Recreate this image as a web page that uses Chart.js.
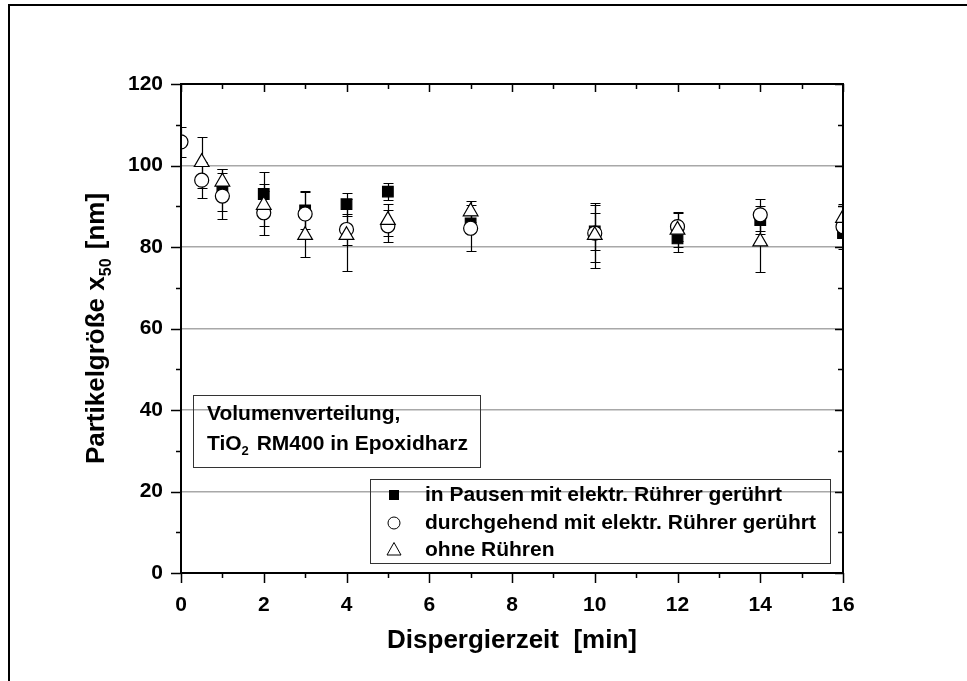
<!DOCTYPE html>
<html>
<head>
<meta charset="utf-8">
<script src="https://cdn.jsdelivr.net/npm/chart.js@4.4.0/dist/chart.umd.min.js"></script>
<style>
  html, body { margin: 0; padding: 0; background: #fff; }
  #wrap { position: relative; width: 967px; height: 681px; }
</style>
</head>
<body>
<div id="wrap"><canvas id="psd-canvas" width="967" height="681"></canvas></div>
<script>
// Dispergierzeit [min] und x50 [nm] mit Fehlerbalken (±)
const pause_t = [1, 2, 3, 4, 5, 7, 10, 12, 14, 16];
const pause_x50 = [94.0, 93.0, 89.0, 90.5, 93.6, 85.8, 83.8, 82.1, 86.6, 83.4];
const pause_err = [5.2, 5.5, 4.7, 2.8, 2.0, 2.0, 4.5, 3.4, 3.5, 4.0];

const cont_t = [0, 0.5, 1, 2, 3, 4, 5, 7, 10, 12, 14, 16];
const cont_x50 = [105.8, 96.4, 92.5, 88.4, 88.1, 84.3, 85.2, 84.6, 83.4, 85.0, 87.9, 85.0];
const cont_err = [3.6, 4.4, 5.6, 5.4, 5.3, 3.8, 4.0, 5.6, 7.0, 3.5, 4.0, 5.0];

const none_t = [0.5, 1, 2, 3, 4, 5, 7, 10, 12, 14, 16];
const none_x50 = [100.8, 96.0, 90.3, 82.9, 82.9, 86.6, 88.7, 82.9, 84.2, 81.3, 87.1];
const none_err = [6.3, 3.2, 5.1, 5.3, 8.8, 4.0, 2.6, 8.0, 4.2, 7.4, 3.5];

const series_labels = [
    'in Pausen mit elektr. Rührer gerührt',
    'durchgehend mit elektr. Rührer gerührt',
    'ohne Rühren'
];
const x_ticks = [0, 2, 4, 6, 8, 10, 12, 14, 16];
const y_ticks = [0, 20, 40, 60, 80, 100, 120];

const FONT = '"Liberation Sans", Arial, sans-serif';

function points(t, v, e) {
    return t.map((x, i) => ({ x: x, y: v[i], err: e[i] }));
}

// vertical error bars with caps, drawn under the markers
const errorBars = {
    id: 'errorBars',
    beforeDatasetsDraw(chart) {
        const ctx = chart.ctx;
        const area = chart.chartArea;
        const xs = chart.scales.x, ys = chart.scales.y;
        ctx.save();
        ctx.beginPath();
        ctx.rect(area.left, area.top, area.right - area.left, area.bottom - area.top);
        ctx.clip();
        ctx.strokeStyle = '#000';
        ctx.lineWidth = 1.2;
        chart.data.datasets.forEach(ds => {
            ds.data.forEach(p => {
                const px = Math.round(xs.getPixelForValue(p.x)) + 0.5;
                const top = Math.round(ys.getPixelForValue(p.y + p.err)) + 0.5;
                const bot = Math.round(ys.getPixelForValue(p.y - p.err)) + 0.5;
                ctx.beginPath();
                ctx.moveTo(px, top); ctx.lineTo(px, bot);
                ctx.moveTo(px - 5, top); ctx.lineTo(px + 5, top);
                ctx.moveTo(px - 5, bot); ctx.lineTo(px + 5, bot);
                ctx.stroke();
            });
        });
        ctx.restore();
    }
};

function drawMarker(ctx, style, x, y) {
    ctx.beginPath();
    if (style === 'rect') {
        ctx.fillStyle = '#000';
        ctx.fillRect(x - 5, y - 5, 10, 10);
        return;
    }
    if (style === 'circle') {
        ctx.arc(x, y, 6, 0, Math.PI * 2);
    } else {
        ctx.moveTo(x, y - 7.5);
        ctx.lineTo(x + 7, y + 5);
        ctx.lineTo(x - 7, y + 5);
        ctx.closePath();
    }
    ctx.fillStyle = '#fff';
    ctx.fill();
    ctx.strokeStyle = '#000';
    ctx.lineWidth = 1;
    ctx.stroke();
}

// text with a subscript part: [text, sub, text]
function subText(ctx, parts, x, y, size) {
    let cx = x;
    parts.forEach((s, i) => {
        const sub = i % 2 === 1;
        ctx.font = 'bold ' + (sub ? Math.round(size * 0.6) : size) + 'px ' + FONT;
        ctx.fillText(s, cx, sub ? y + size * 0.35 : y);
        cx += ctx.measureText(s).width + (sub ? 2 : 0);
    });
    return cx - x;
}

function textWidth(ctx, parts, size) {
    let w = 0;
    parts.forEach((s, i) => {
        ctx.font = 'bold ' + (i % 2 === 1 ? Math.round(size * 0.6) : size) + 'px ' + FONT;
        w += ctx.measureText(s).width + (i % 2 === 1 ? 2 : 0);
    });
    return w;
}

// frame, ticks, titles, text box and legend
const decor = {
    id: 'decor',
    afterDraw(chart) {
        const ctx = chart.ctx;
        const a = chart.chartArea;
        const xs = chart.scales.x, ys = chart.scales.y;
        ctx.save();

        // page frame
        ctx.strokeStyle = '#000';
        ctx.lineWidth = 2;
        ctx.beginPath();
        ctx.moveTo(9, 681); ctx.lineTo(9, 5); ctx.lineTo(967, 5);
        ctx.stroke();

        // plot frame
        ctx.lineWidth = 2;
        ctx.strokeRect(a.left, a.top, a.right - a.left, a.bottom - a.top);

        ctx.lineWidth = 1.5;
        ctx.beginPath();
        for (let v = 0; v <= 16; v += 1) {
            const px = Math.round(xs.getPixelForValue(v)) + 0.5;
            const major = v % 2 === 0;
            ctx.moveTo(px, a.bottom); ctx.lineTo(px, a.bottom + (major ? 10 : 5));
            ctx.moveTo(px, a.top); ctx.lineTo(px, a.top + (major ? 8 : 5));
        }
        for (let v = 0; v <= 120; v += 10) {
            const py = Math.round(ys.getPixelForValue(v)) + 0.5;
            const major = v % 20 === 0;
            ctx.moveTo(a.left, py); ctx.lineTo(a.left - (major ? 10 : 5), py);
            ctx.moveTo(a.right, py); ctx.lineTo(a.right - (major ? 8 : 5), py);
        }
        ctx.stroke();

        ctx.fillStyle = '#000';
        ctx.textBaseline = 'middle';

        // x axis title
        ctx.font = 'bold 26px ' + FONT;
        ctx.textAlign = 'center';
        ctx.fillText('Dispergierzeit  [min]', (a.left + a.right) / 2, 641);

        // y axis title
        ctx.textAlign = 'left';
        const yParts = ['Partikelgröße x', '50', ' [nm]'];
        ctx.save();
        ctx.translate(97, (a.top + a.bottom) / 2);
        ctx.rotate(-Math.PI / 2);
        const yw = textWidth(ctx, yParts, 26);
        subText(ctx, yParts, -yw / 2, 0, 26);
        ctx.restore();

        // text box
        ctx.lineWidth = 1;
        ctx.strokeStyle = '#333';
        ctx.strokeRect(193.5, 395.5, 287, 72);
        ctx.font = 'bold 21px ' + FONT;
        ctx.fillText('Volumenverteilung,', 207, 414);
        subText(ctx, ['TiO', '2', ' RM400 in Epoxidharz'], 207, 444, 21);

        // legend
        ctx.strokeRect(370.5, 479.5, 460, 84);
        const styles = ['rect', 'circle', 'triangle'];
        const rows = [495, 523, 550];
        series_labels.forEach((lab, i) => {
            drawMarker(ctx, styles[i], 394, rows[i]);
            ctx.fillStyle = '#000';
            ctx.font = 'bold 21px ' + FONT;
            ctx.fillText(lab, 425, rows[i]);
        });
        ctx.restore();
    }
};

const markerBase = {
    showLine: false,
    borderColor: '#000',
    pointBorderColor: '#000',
    pointBorderWidth: 1.2,
    clip: 0,
};

const psd_config = {
    type: 'scatter',
    data: {
        datasets: [
            Object.assign({}, markerBase, {
                label: series_labels[0],
                data: points(pause_t, pause_x50, pause_err),
                pointStyle: 'rect',
                pointRadius: 7.5,
                pointHoverRadius: 7.5,
                pointBackgroundColor: '#000',
                order: 3,
            }),
            Object.assign({}, markerBase, {
                label: series_labels[1],
                data: points(cont_t, cont_x50, cont_err),
                pointStyle: 'circle',
                pointRadius: 7,
                pointHoverRadius: 7,
                pointBackgroundColor: '#fff',
                order: 2,
            }),
            Object.assign({}, markerBase, {
                label: series_labels[2],
                data: points(none_t, none_x50, none_err),
                pointStyle: 'triangle',
                pointRadius: 8.5,
                pointHoverRadius: 8.5,
                pointBackgroundColor: '#fff',
                order: 1,
            }),
        ]
    },
    options: {
        responsive: false,
        animation: false,
        devicePixelRatio: 1,
        layout: { padding: { top: 84, right: 124, left: 0, bottom: 0 } },
        plugins: {
            legend: { display: false },
            tooltip: { enabled: false },
        },
        scales: {
            x: {
                type: 'linear',
                min: 0,
                max: 16,
                afterBuildTicks: s => { s.ticks = x_ticks.map(v => ({ value: v })); },
                afterFit: s => { s.height = 108; },
                ticks: {
                    color: '#000',
                    padding: 20,
                    font: { family: FONT, size: 21, weight: 'bold' },
                },
                grid: { display: false, drawTicks: false },
                border: { display: false },
            },
            y: {
                min: 0,
                max: 120,
                afterBuildTicks: s => { s.ticks = y_ticks.map(v => ({ value: v })); },
                afterFit: s => { s.width = 181; },
                ticks: {
                    color: '#000',
                    padding: 18,
                    font: { family: FONT, size: 21, weight: 'bold' },
                },
                grid: {
                    drawTicks: false,
                    color: c => (c.tick && c.tick.value > 0 && c.tick.value < 120) ? '#a8a8a8' : 'rgba(0,0,0,0)',
                    lineWidth: 1.5,
                },
                border: { display: false },
            }
        }
    },
    plugins: [errorBars, decor]
};

new Chart(document.getElementById('psd-canvas'), psd_config);
</script>
</body>
</html>
